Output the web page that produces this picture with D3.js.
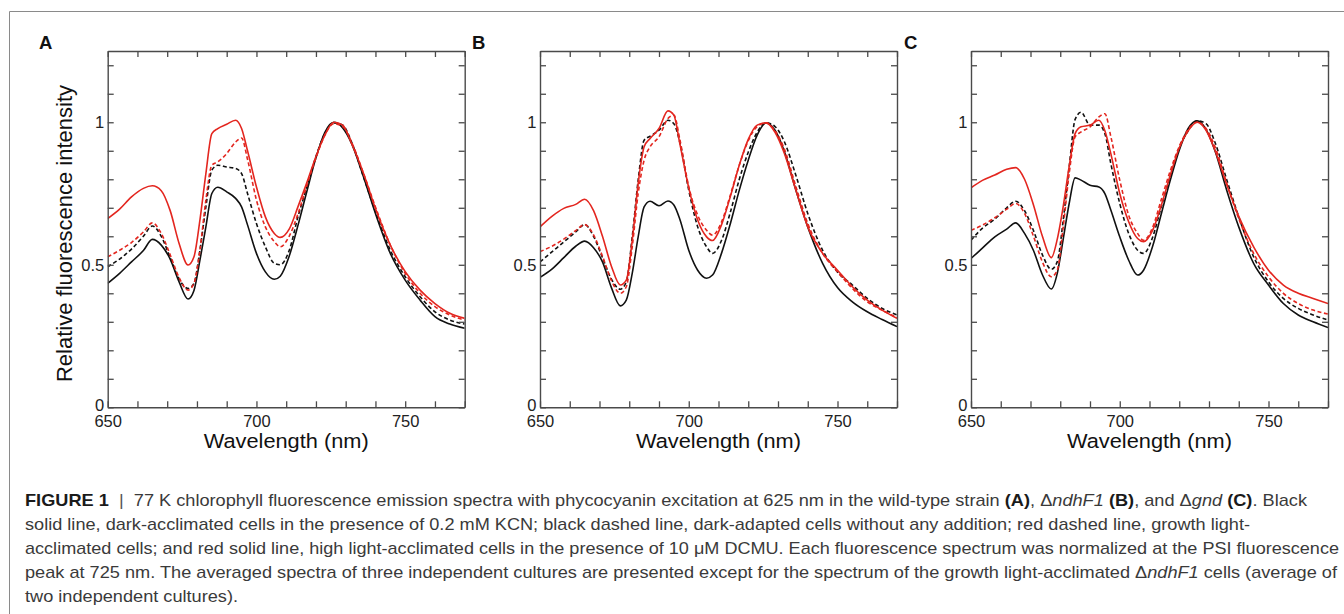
<!DOCTYPE html>
<html>
<head>
<meta charset="utf-8">
<script src="https://cdn.jsdelivr.net/npm/d3@7"></script>
<style>
  html, body { margin: 0; padding: 0; background: #fff; }
  svg { display: block; }
</style>
</head>
<body>
<svg id="chart" width="1344" height="614"></svg>
<script>
// ---------------- DATA ----------------
const wavelengths = [650,654,658,662,665,668,671,674,677,679,681,683,685,687,690,693,695,697,700,703,706,708,711,714,717,720,723,726,729,732,736,740,745,750,755,760,765,770];

// Panel A: wild-type
const A_blackSolid  = [.435,.47,.51,.55,.589,.569,.52,.44,.38,.41,.516,.633,.75,.772,.756,.733,.703,.64,.54,.475,.449,.46,.53,.64,.76,.875,.965,1.0,.98,.925,.808,.68,.54,.446,.376,.318,.292,.277];
const A_blackDashed = [.493,.52,.555,.6,.636,.6,.525,.45,.417,.435,.551,.703,.832,.849,.843,.838,.82,.75,.645,.563,.505,.5,.55,.67,.775,.88,.96,.998,.99,.93,.808,.686,.551,.458,.388,.335,.306,.292];
const A_redDashed   = [.528,.551,.578,.615,.647,.61,.535,.455,.411,.435,.551,.727,.849,.861,.89,.931,.945,.87,.727,.633,.581,.563,.6,.68,.78,.875,.955,.995,.985,.93,.82,.703,.569,.47,.4,.353,.324,.306];
const A_redSolid    = [.662,.695,.738,.768,.777,.76,.69,.575,.499,.528,.657,.82,.96,.978,.993,1.007,.978,.9,.773,.668,.61,.596,.625,.705,.79,.88,.955,1.0,.99,.925,.82,.697,.569,.476,.411,.364,.33,.312];

// Panel B: ΔndhF1
const B_blackSolid  = [.456,.485,.525,.565,.583,.56,.51,.42,.356,.376,.47,.598,.703,.723,.707,.724,.71,.66,.551,.481,.453,.464,.54,.645,.762,.867,.955,.998,.972,.902,.762,.633,.505,.42,.37,.335,.308,.283];
const B_blackDashed = [.51,.545,.58,.615,.641,.6,.525,.45,.414,.44,.598,.797,.937,.951,.972,1.007,.995,.93,.762,.633,.563,.54,.585,.685,.8,.895,.965,.998,.985,.935,.814,.68,.551,.475,.429,.382,.347,.324];
const B_redDashed   = [.546,.565,.59,.62,.641,.605,.53,.445,.4,.423,.563,.75,.867,.914,.949,1.013,1.025,.94,.774,.674,.621,.604,.65,.745,.85,.935,.985,.998,.97,.91,.775,.645,.54,.475,.417,.37,.341,.315];
const B_redSolid    = [.633,.67,.698,.712,.73,.69,.6,.495,.429,.446,.586,.785,.914,.943,.978,1.04,1.025,.925,.77,.657,.598,.585,.64,.74,.85,.94,.99,.998,.965,.895,.762,.633,.54,.481,.423,.376,.341,.312];

// Panel C: Δgnd
const C_blackSolid  = [.522,.56,.598,.625,.647,.61,.55,.465,.415,.47,.59,.715,.805,.797,.779,.773,.75,.692,.598,.516,.464,.481,.563,.68,.797,.902,.978,1.005,.975,.9,.76,.633,.505,.429,.364,.324,.3,.28];
const C_blackDashed = [.586,.63,.66,.7,.723,.69,.62,.535,.484,.511,.657,.843,1.01,1.035,.99,.99,.96,.855,.715,.61,.551,.54,.595,.705,.81,.91,.97,1.005,.995,.93,.797,.668,.528,.44,.382,.347,.324,.306];
const C_redDashed   = [.621,.64,.665,.695,.715,.68,.6,.51,.458,.481,.633,.82,.949,.966,.984,1.019,1.03,.95,.797,.674,.61,.586,.63,.73,.83,.915,.975,1.0,.978,.915,.785,.662,.54,.458,.4,.364,.341,.327];
const C_redSolid    = [.77,.797,.815,.835,.841,.8,.71,.6,.525,.59,.705,.845,.96,.984,.99,1.007,.97,.89,.75,.651,.592,.581,.62,.71,.815,.91,.97,1.0,.972,.902,.78,.67,.563,.481,.429,.4,.382,.364];

const panelLetters = ["A", "B", "C"];
const xTicks = [650,660,670,680,690,700,710,720,730,740,750,760,770];
const xTickLabels = [650, 700, 750];
const yTicks = [0,0.1,0.2,0.3,0.4,0.5,0.6,0.7,0.8,0.9,1.0,1.1,1.2];
const yTickLabels = [0, 0.5, 1];
const xDomain = [650, 770];
const yDomain = [0, 1.25];
const xLabel = "Wavelength (nm)";
const yLabel = "Relative fluorescence intensity";

// ---------------- LAYOUT ----------------
const svg = d3.select("#chart");
const W = 1344, H = 614;
const RED = "#e3261f", BLACK = "#111111", FRAME = "#4a4a4a";
const panels = [
  { letter: panelLetters[0], left: 107.7, letterX: 39, series: [A_blackSolid, A_blackDashed, A_redDashed, A_redSolid], ylab: true },
  { letter: panelLetters[1], left: 540,   letterX: 472, series: [B_blackSolid, B_blackDashed, B_redDashed, B_redSolid], ylab: false },
  { letter: panelLetters[2], left: 971,   letterX: 904, series: [C_blackSolid, C_blackDashed, C_redDashed, C_redSolid], ylab: false }
];
const styles = [
  { color: BLACK, dash: null },
  { color: BLACK, dash: "4,2.6" },
  { color: RED,   dash: "4,2.6" },
  { color: RED,   dash: null }
];
const plotTop = 51, pw = 357, ph = 356.3;

// outer frame (top & left lines)
svg.append("line").attr("x1", 9.5).attr("x2", W).attr("y1", 11.5).attr("y2", 11.5)
  .attr("stroke", "#8a8a8a").attr("stroke-width", 1);
svg.append("line").attr("x1", 9.5).attr("x2", 9.5).attr("y1", 11.5).attr("y2", H)
  .attr("stroke", "#8a8a8a").attr("stroke-width", 1);

const FONT = "'Liberation Sans', Arial, Helvetica, sans-serif";

panels.forEach((p, i) => {
  const g = svg.append("g").attr("transform", `translate(${p.left},${plotTop})`);
  const x = d3.scaleLinear().domain(xDomain).range([0, pw]);
  const y = d3.scaleLinear().domain(yDomain).range([ph, 0]);

  const clipId = "clip" + i;
  g.append("clipPath").attr("id", clipId).append("rect")
    .attr("x", 0).attr("y", 0).attr("width", pw).attr("height", ph);

  const line = d3.line()
    .x((d, k) => x(wavelengths[k]))
    .y(d => y(d))
    .curve(d3.curveMonotoneX);

  const lg = g.append("g").attr("clip-path", `url(#${clipId})`);
  p.series.forEach((s, k) => {
    lg.append("path").datum(s)
      .attr("d", line)
      .attr("fill", "none")
      .attr("stroke", styles[k].color)
      .attr("stroke-width", 1.6)
      .attr("stroke-linejoin", "round")
      .attr("stroke-dasharray", styles[k].dash);
  });

  const fmtX = d => xTickLabels.includes(d) ? String(d) : "";
  const fmtY = d => yTickLabels.some(v => Math.abs(v - d) < 1e-9) ? String(+d.toFixed(1)) : "";

  const styleAxis = (sel) => {
    sel.selectAll(".domain").attr("stroke", FRAME).attr("stroke-width", 1.4);
    sel.selectAll(".tick line").attr("stroke", FRAME).attr("stroke-width", 1.3);
    sel.selectAll("text").attr("fill", "#222").style("font-family", FONT).style("font-size", "16.5px");
  };

  g.append("g").attr("transform", `translate(0,${ph})`)
    .call(d3.axisBottom(x).tickValues(xTicks).tickSize(-6).tickSizeOuter(0).tickPadding(7.5).tickFormat(fmtX))
    .call(styleAxis);
  g.append("g")
    .call(d3.axisTop(x).tickValues(xTicks).tickSize(-6).tickSizeOuter(0).tickFormat(""))
    .call(styleAxis);
  const yAx = g.append("g")
    .call(d3.axisLeft(y).tickValues(yTicks).tickSize(-6).tickSizeOuter(0).tickPadding(3.5).tickFormat(fmtY))
    .call(styleAxis);
  // the "0" label sits slightly above the corner, as in the original figure
  yAx.selectAll(".tick text").filter(d => d === 0).attr("dy", "0.2em");
  g.append("g").attr("transform", `translate(${pw},0)`)
    .call(d3.axisRight(y).tickValues(yTicks).tickSize(-6).tickSizeOuter(0).tickFormat(""))
    .call(styleAxis);

  // x axis title
  g.append("text")
    .attr("x", pw / 2).attr("y", 397)
    .attr("text-anchor", "middle")
    .attr("textLength", 165).attr("lengthAdjust", "spacingAndGlyphs")
    .style("font-family", FONT).style("font-size", "20.5px").attr("fill", "#111")
    .text(xLabel);

  if (p.ylab) {
    svg.append("text")
      .attr("transform", `translate(71.5,233.5) rotate(-90)`)
      .attr("text-anchor", "middle")
      .style("font-family", FONT).style("font-size", "22px").attr("fill", "#111")
      .text(yLabel);
  }

  svg.append("text")
    .attr("x", p.letterX).attr("y", 49)
    .style("font-family", FONT).style("font-size", "18.5px").style("font-weight", "bold").attr("fill", "#111")
    .text(p.letter);
});

// ---------------- CAPTION ----------------
const captionLines = [
  [["FIGURE 1", "b"], ["  |  ", "sep"], ["77 K chlorophyll fluorescence emission spectra with phycocyanin excitation at 625 nm in the wild-type strain ", ""], ["(A)", "b"], [", Δ", ""], ["ndhF1", "i"], [" ", ""], ["(B)", "b"], [", and Δ", ""], ["gnd", "i"], [" ", ""], ["(C)", "b"], [". Black", ""]],
  [["solid line, dark-acclimated cells in the presence of 0.2 mM KCN; black dashed line, dark-adapted cells without any addition; red dashed line, growth light-", ""]],
  [["acclimated cells; and red solid line, high light-acclimated cells in the presence of 10 μM DCMU. Each fluorescence spectrum was normalized at the PSI fluorescence", ""]],
  [["peak at 725 nm. The averaged spectra of three independent cultures are presented except for the spectrum of the growth light-acclimated Δ", ""], ["ndhF1", "i"], [" cells (average of", ""]],
  [["two independent cultures).", ""]]
];
const captionEnds = [1307, 1250, 1339, 1337, null];
const capX = 25, capY0 = 506, capDY = 24;
let ratio = 1;
captionLines.forEach((ln, i) => {
  const t = svg.append("text")
    .attr("x", capX).attr("y", capY0 + i * capDY)
    .style("font-family", FONT).style("font-size", "17px").attr("fill", "#3a3a3a")
    .style("white-space", "pre");
  ln.forEach(([s, k]) => {
    const ts = t.append("tspan").text(s);
    if (k === "b") ts.style("font-weight", "bold").attr("fill", "#1a1a1a");
    if (k === "i") ts.style("font-style", "italic");
    if (k === "sep") ts.attr("fill", "#555");
  });
  const nat = t.node().getComputedTextLength();
  let target;
  if (captionEnds[i] != null) { target = captionEnds[i] - capX; ratio = target / nat; }
  else target = nat * ratio;
  t.attr("textLength", target).attr("lengthAdjust", "spacingAndGlyphs");
});
</script>
</body>
</html>
